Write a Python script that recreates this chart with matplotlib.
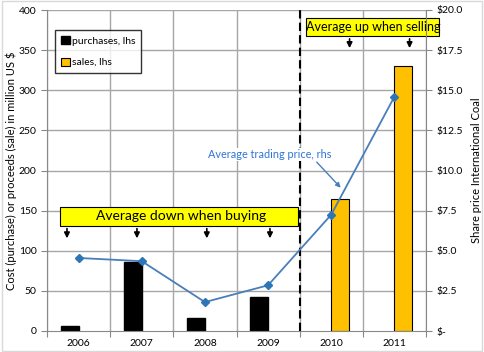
import matplotlib
matplotlib.use('Agg')
import matplotlib.pyplot as plt
from matplotlib.patches import Rectangle
import numpy as np

plt.rcParams['font.family'] = ['Lato', 'DejaVu Sans']

# data
years = ['2006', '2007', '2008', '2009', '2010', '2011']
purchases = [6, 86, 16, 42, 0, 0]
sales = [0, 0, 0, 0, 164, 330]
avg_price = [4.55, 4.35, 1.8, 2.85, 7.25, 14.6]

x = np.arange(len(years))
w = 0.285

fig = plt.figure(figsize=(4.84, 3.52), dpi=100)
ax = fig.add_axes([47 / 484, 21 / 352, 379 / 484, 321 / 352])

# gridlines
for b in np.arange(-0.5, 6.0, 1.0):
    ax.axvline(b, color='#a6a6a6', lw=1, zorder=0)
for v in range(50, 401, 50):
    ax.axhline(v, color='#a6a6a6', lw=1, zorder=0)

p_idx = [i for i, v in enumerate(purchases) if v > 0]
s_idx = [i for i, v in enumerate(sales) if v > 0]
ax.bar(x[p_idx] - w / 2, [purchases[i] for i in p_idx], w, color='black',
       edgecolor='black', label='purchases, lhs', zorder=2)
ax.bar(x[s_idx] + w / 2, [sales[i] for i in s_idx], w, color='#ffc000',
       edgecolor='black', lw=0.8, label='sales, lhs', zorder=2)

ax.set_xlim(-0.5, 5.5)
ax.set_ylim(0, 400)
ax.set_yticks(range(0, 401, 50))
ax.set_xticks(np.arange(-0.5, 6.0, 1.0))
ax.set_xticklabels([])
ax.set_xticks(x, minor=True)
ax.set_xticklabels(years, minor=True)
ax.tick_params(axis='x', which='major', length=4, color='#888888')
ax.tick_params(axis='x', which='minor', length=0, labelsize=7.5, pad=6)
ax.tick_params(axis='y', length=4, color='#888888', labelsize=7.5)
for s in ['top', 'right']:
    ax.spines[s].set_visible(False)
for s in ['left', 'bottom']:
    ax.spines[s].set_color('#888888')
ax.set_ylabel('Cost (purchase) or proceeds (sale) in million US $', fontsize=8,
              labelpad=1)

# dashed separator
ax.axvline(3.5, color='black', lw=1.5, ls=(0, (4, 2)), zorder=3)

# right axis
ax2 = ax.twinx()
ax2.plot(x, avg_price, color='#4a7ebb', lw=1.3, marker='D', ms=4,
         mfc='#2e75b6', mec='#2e75b6', zorder=4)
ax2.set_ylim(0, 20)
ax2.set_yticks(np.arange(0, 20.1, 2.5))
ax2.set_yticklabels(['$-'] + ['$%.1f' % v for v in np.arange(2.5, 20.1, 2.5)])
ax2.tick_params(axis='y', length=4, color='#888888', labelsize=7.5)
for s in ['top', 'left', 'bottom']:
    ax2.spines[s].set_visible(False)
ax2.spines['right'].set_color('#888888')
ax2.set_ylabel('Share price International Coal', fontsize=8, labelpad=6)

ax.legend(loc='upper left', bbox_to_anchor=(0.021, 0.937), fontsize=7.5,
          frameon=True, fancybox=False, edgecolor='black', handlelength=0.8,
          handleheight=0.8, handletextpad=0.2, borderpad=0.6, labelspacing=1.1,
          borderaxespad=0)

# yellow callouts
ax.add_patch(Rectangle((-0.294, 131), 3.764, 24, facecolor='yellow',
                       edgecolor='black', lw=0.8, zorder=5))
ax.text(1.62, 143, 'Average down when buying', ha='center', va='center',
        fontsize=10, zorder=6)
for xa in [-0.184, 0.924, 2.03, 3.03]:
    ax.annotate('', xy=(xa, 112), xytext=(xa, 131),
                arrowprops=dict(arrowstyle='-|>', color='black', lw=1.2,
                                mutation_scale=8), zorder=6)

ax.add_patch(Rectangle((3.6, 367.5), 2.1, 22.5, facecolor='yellow',
                       edgecolor='black', lw=0.8, zorder=5, clip_on=False))
ax.text(4.66, 379, 'Average up when selling', ha='center', va='center',
        fontsize=9, zorder=6, clip_on=False)
for xa in [4.29, 5.24]:
    ax.annotate('', xy=(xa, 349), xytext=(xa, 367.5),
                arrowprops=dict(arrowstyle='-|>', color='black', lw=1.2,
                                mutation_scale=8), zorder=6)

ax.text(3.03, 220, 'Average trading price, rhs', ha='center', va='center',
        fontsize=7.8, color='#2e75d6', zorder=6,
        bbox=dict(facecolor='white', edgecolor='none', pad=1))
ax.annotate('', xy=(4.18, 176), xytext=(3.74, 213),
            arrowprops=dict(arrowstyle='-|>', color='#4a7ebb', lw=1,
                            mutation_scale=7), zorder=6)

fig.patches.append(Rectangle((0.004, 0.004), 0.992, 0.992, transform=fig.transFigure,
                             fill=False, edgecolor='#d9d9d9', lw=1))

fig.savefig('out.png', dpi=100)
